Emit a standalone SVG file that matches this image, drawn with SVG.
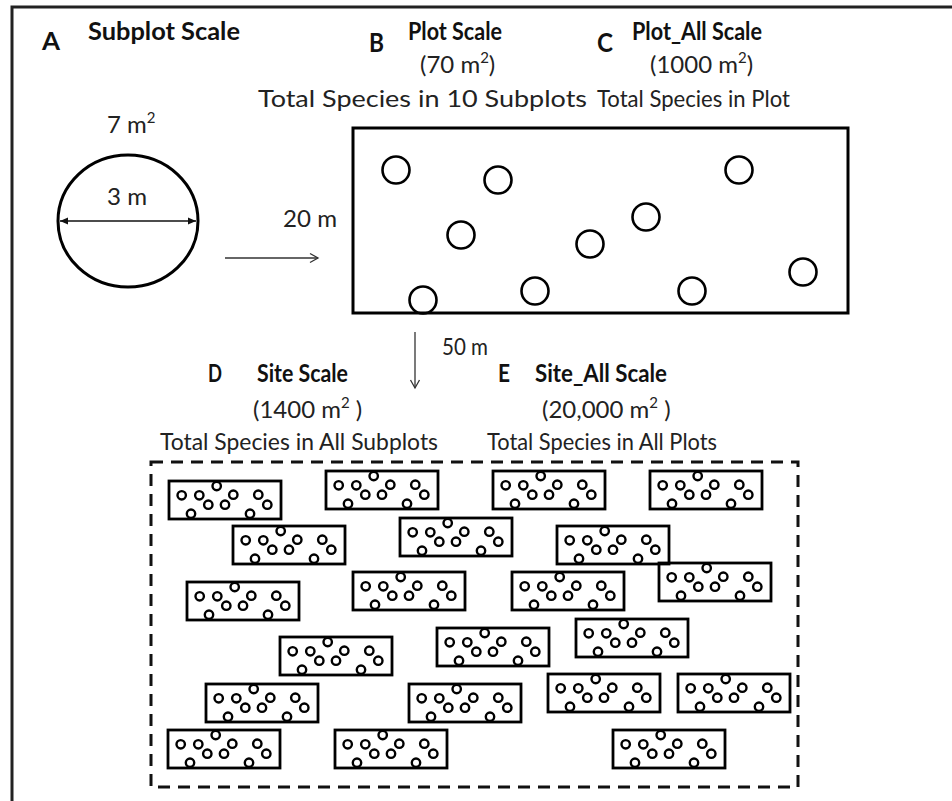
<svg xmlns="http://www.w3.org/2000/svg" xmlns:xlink="http://www.w3.org/1999/xlink" width="952" height="801" viewBox="0 0 952 801">
<style>
  .t { font-family: Lato, "Open Sans", "Liberation Sans", sans-serif; font-size: 24px; fill: #222; }
  .b { font-family: Lato, "Open Sans", "Liberation Sans", sans-serif; font-size: 24px; font-weight: bold; fill: #111; }
  .L { font-family: Lato, "Open Sans", "Liberation Sans", sans-serif; font-size: 24px; font-weight: bold; fill: #111; }
  .LL { font-family: Lato, "Open Sans", "Liberation Sans", sans-serif; font-size: 27px; font-weight: bold; fill: #111; }
  .sup { font-size: 15px; }
  .conn { fill: none; stroke: #333; stroke-width: 1.3; }
  .bc { fill: none; stroke: #000; stroke-width: 2.6; }
  .sc { fill: none; stroke: #000; stroke-width: 2.4; }
</style>
<defs>
  <marker id="open" markerUnits="userSpaceOnUse" markerWidth="12" markerHeight="12" refX="10" refY="6" orient="auto">
    <path d="M2,1.5 L10,6 L2,10.5" fill="none" stroke="#333" stroke-width="1.3"/>
  </marker>
  <marker id="fill" markerUnits="userSpaceOnUse" markerWidth="10" markerHeight="8" refX="8" refY="4" orient="auto-start-reverse">
    <path d="M0,0.5 L8,4 L0,7.5 Z" fill="#111"/>
  </marker>
  <g id="mp">
    <rect x="0" y="0" width="112" height="38" fill="none" stroke="#000" stroke-width="2.8"/>
    <circle class="sc" cx="12.7" cy="14.3" r="4.2"/>
    <circle class="sc" cx="30.3" cy="14.3" r="4.2"/>
    <circle class="sc" cx="39.3" cy="23.7" r="4.2"/>
    <circle class="sc" cx="47.7" cy="5" r="4.2"/>
    <circle class="sc" cx="56" cy="23.7" r="4.2"/>
    <circle class="sc" cx="64.3" cy="13.7" r="4.2"/>
    <circle class="sc" cx="89.3" cy="13.7" r="4.2"/>
    <circle class="sc" cx="98.3" cy="23.7" r="4.2"/>
    <circle class="sc" cx="22" cy="32.7" r="4.2"/>
    <circle class="sc" cx="81" cy="32.7" r="4.2"/>
  </g>
</defs>
<rect width="952" height="801" fill="#fff"/>
<rect x="12" y="7" width="980" height="840" fill="none" stroke="#222" stroke-width="3"/>

<g id="panelA">
  <text class="L" x="42" y="50" textLength="18" lengthAdjust="spacingAndGlyphs">A</text>
  <text class="b" x="88" y="40" textLength="152" lengthAdjust="spacingAndGlyphs">Subplot Scale</text>
  <text class="t" x="107" y="133">7 m<tspan class="sup" dy="-10">2</tspan></text>
  <ellipse cx="128" cy="221" rx="70" ry="66" fill="none" stroke="#000" stroke-width="3"/>
  <text class="t" x="107" y="205" textLength="40" lengthAdjust="spacingAndGlyphs">3 m</text>
  <line x1="60" y1="221" x2="196" y2="221" stroke="#111" stroke-width="1.5" marker-start="url(#fill)" marker-end="url(#fill)"/>
</g>

<g id="panelB">
  <text class="LL" x="369" y="52" textLength="15" lengthAdjust="spacingAndGlyphs">B</text>
  <text class="b" x="408" y="40" textLength="94" lengthAdjust="spacingAndGlyphs">Plot Scale</text>
  <text class="t" x="420" y="73">(70 m<tspan class="sup" dy="-10">2</tspan><tspan dy="10">)</tspan></text>
  <text class="t" x="258" y="107" textLength="329" lengthAdjust="spacingAndGlyphs">Total Species in 10 Subplots</text>
  <text class="t" x="283" y="227" textLength="54" lengthAdjust="spacingAndGlyphs">20 m</text>
  <rect x="353" y="128" width="495" height="185" fill="none" stroke="#000" stroke-width="3"/>
  <circle class="bc" cx="396" cy="170" r="13.5"/>
  <circle class="bc" cx="498" cy="180" r="13.5"/>
  <circle class="bc" cx="461" cy="235" r="13.5"/>
  <circle class="bc" cx="423" cy="300" r="13.5"/>
  <circle class="bc" cx="535" cy="291" r="13.5"/>
  <circle class="bc" cx="590" cy="244" r="13.5"/>
  <circle class="bc" cx="646" cy="217" r="13.5"/>
  <circle class="bc" cx="739" cy="170" r="13.5"/>
  <circle class="bc" cx="692" cy="291" r="13.5"/>
  <circle class="bc" cx="803" cy="272" r="13.5"/>
</g>

<g id="panelC">
  <text class="LL" x="597" y="52" textLength="16" lengthAdjust="spacingAndGlyphs">C</text>
  <text class="b" x="632" y="40" textLength="130" lengthAdjust="spacingAndGlyphs">Plot_All Scale</text>
  <text class="t" x="650" y="73">(1000 m<tspan class="sup" dy="-10">2</tspan><tspan dy="10">)</tspan></text>
  <text class="t" x="597" y="107" textLength="193" lengthAdjust="spacingAndGlyphs">Total Species in Plot</text>
</g>

<g id="connectors">
  <line class="conn" x1="225" y1="258" x2="318" y2="258" marker-end="url(#open)"/>
  <line class="conn" x1="415" y1="332" x2="415" y2="388" marker-end="url(#open)"/>
  <text class="t" x="442" y="355" textLength="46" lengthAdjust="spacingAndGlyphs">50 m</text>
</g>

<g id="panelD">
  <text class="L" x="208" y="382" textLength="14" lengthAdjust="spacingAndGlyphs">D</text>
  <text class="b" x="257" y="382" textLength="91" lengthAdjust="spacingAndGlyphs">Site Scale</text>
  <text class="t" x="253" y="418">(1400 m<tspan class="sup" dy="-10">2</tspan><tspan dy="10"> )</tspan></text>
  <text class="t" x="160" y="450" textLength="278" lengthAdjust="spacingAndGlyphs">Total Species in All Subplots</text>
</g>

<g id="panelE">
  <text class="L" x="498" y="382" textLength="12" lengthAdjust="spacingAndGlyphs">E</text>
  <text class="b" x="535" y="382" textLength="132" lengthAdjust="spacingAndGlyphs">Site_All Scale</text>
  <text class="t" x="542" y="418">(20,000 m<tspan class="sup" dy="-10">2</tspan><tspan dy="10"> )</tspan></text>
  <text class="t" x="487" y="450" textLength="230" lengthAdjust="spacingAndGlyphs">Total Species in All Plots</text>
</g>

<g id="site">
  <rect x="151" y="462" width="647" height="325" fill="none" stroke="#111" stroke-width="3" stroke-dasharray="12 8"/>
  <use id="p1" xlink:href="#mp" x="169" y="481"/>
  <use id="p2" xlink:href="#mp" x="326" y="471"/>
  <use id="p3" xlink:href="#mp" x="493" y="471"/>
  <use id="p4" xlink:href="#mp" x="650" y="471"/>
  <use id="p5" xlink:href="#mp" x="233" y="526"/>
  <use id="p6" xlink:href="#mp" x="400" y="518"/>
  <use id="p7" xlink:href="#mp" x="557" y="526"/>
  <use id="p8" xlink:href="#mp" x="187" y="582"/>
  <use id="p9" xlink:href="#mp" x="353" y="572"/>
  <use id="p10" xlink:href="#mp" x="512" y="572"/>
  <use id="p11" xlink:href="#mp" x="659" y="563"/>
  <use id="p12" xlink:href="#mp" x="280" y="637"/>
  <use id="p13" xlink:href="#mp" x="437" y="628"/>
  <use id="p14" xlink:href="#mp" x="576" y="619"/>
  <use id="p15" xlink:href="#mp" x="206" y="684"/>
  <use id="p16" xlink:href="#mp" x="409" y="684"/>
  <use id="p17" xlink:href="#mp" x="548" y="674"/>
  <use id="p18" xlink:href="#mp" x="678" y="674"/>
  <use id="p19" xlink:href="#mp" x="168" y="730"/>
  <use id="p20" xlink:href="#mp" x="335" y="730"/>
  <use id="p21" xlink:href="#mp" x="613" y="730"/>
</g>
</svg>
